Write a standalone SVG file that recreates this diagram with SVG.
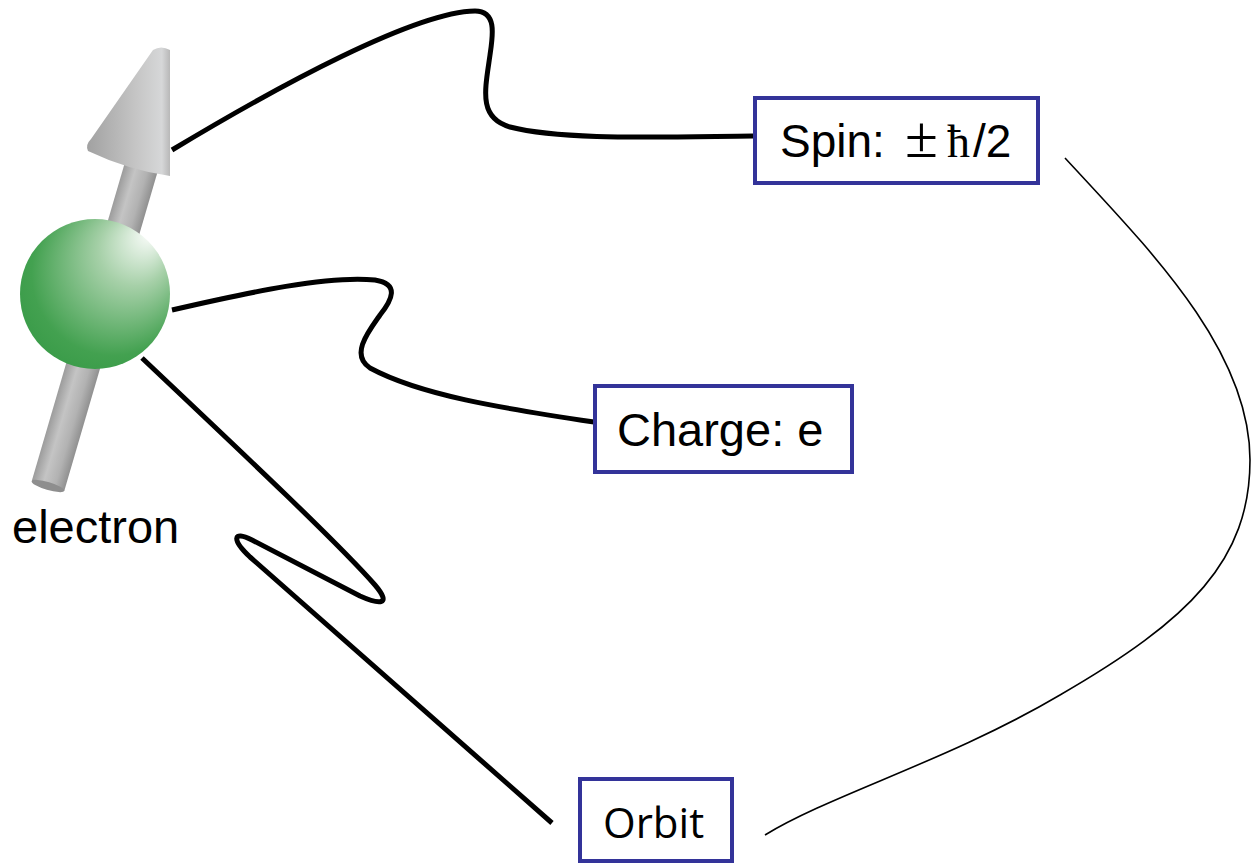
<svg xmlns="http://www.w3.org/2000/svg" width="1255" height="863" viewBox="0 0 1255 863">
  <style>
    .box { fill: #ffffff; stroke: #333399; stroke-width: 4; }
    .label { font-family: "Liberation Sans", Arial, sans-serif; font-size: 46px; fill: #000000; }
    .sym { font-family: "Liberation Serif", "Times New Roman", serif; }
    .orbit { font-family: "Open Sans", "Noto Sans", sans-serif; font-size: 42px; fill: #000000; }
    .wire { fill: none; stroke: #000000; stroke-width: 5; stroke-linejoin: round; }
    .thin { fill: none; stroke: #000000; stroke-width: 1.6; }
  </style>
  <defs>
    <linearGradient id="shaftGrad" x1="0" y1="0" x2="1" y2="0">
      <stop offset="0" stop-color="#9c9c9c"/>
      <stop offset="0.35" stop-color="#c4c4c4"/>
      <stop offset="0.7" stop-color="#b2b2b2"/>
      <stop offset="1" stop-color="#909090"/>
    </linearGradient>
    <linearGradient id="coneGrad" x1="88" y1="0" x2="170" y2="0" gradientUnits="userSpaceOnUse">
      <stop offset="0" stop-color="#a2a2a2"/>
      <stop offset="0.6" stop-color="#c6c6c6"/>
      <stop offset="0.9" stop-color="#d6d7d8"/>
      <stop offset="1" stop-color="#b8b8b8"/>
    </linearGradient>
    <radialGradient id="ballGrad" cx="0.5" cy="0.5" r="0.8" fx="0.88" fy="0.08">
      <stop offset="0" stop-color="#ffffff"/>
      <stop offset="0.3" stop-color="#a6d0a8"/>
      <stop offset="0.68" stop-color="#43a150"/>
      <stop offset="1" stop-color="#2a923c"/>
    </radialGradient>
  </defs>

  <!-- electron: spin arrow with a charged ball -->
  <g id="electron">
    <g transform="translate(48,486) rotate(16.3)">
      <rect x="-17" y="-335" width="34" height="335" fill="url(#shaftGrad)"/>
      <ellipse cx="0" cy="0" rx="17" ry="4" fill="#8e8e8e"/>
    </g>
    <path d="M153,50 Q161,45 170,50 L170,176 Q128,170 88,151 Q85,145 91,139 Z" fill="url(#coneGrad)"/>
    <circle cx="95" cy="294" r="75" fill="url(#ballGrad)"/>
    <text class="label" x="12" y="543" style="font-size:47px">electron</text>
  </g>

  <!-- connectors -->
  <g id="connectors">
    <path class="wire" d="M172,150 C280,85 415,12 475,11 C497,11 493,35 490,55 C485,90 478,118 510,127 C560,140 650,137 753,136"/>
    <path class="wire" d="M172,310 C250,292 330,275 375,280 C400,284 392,300 380,315 C368,332 350,355 370,368 C420,395 500,408 594,422"/>
    <path class="wire" d="M142,358 C250,460 340,545 375,585 C392,605 380,605 360,596 L252,540 C232,530 232,540 250,557 L552,823"/>
    <path class="thin" d="M1065,158 C1150,250 1250,350 1250,460 C1250,560 1190,620 1060,695 C950,760 830,795 765,835"/>
  </g>

  <g id="spin">
    <rect class="box" x="755" y="98" width="283" height="85"/>
    <text class="label" x="780" y="157">Spin: <tspan class="sym" x="905" style="font-size:60px">±</tspan><tspan class="sym" x="947">ħ</tspan><tspan x="973">/2</tspan></text>
  </g>

  <g id="charge">
    <rect class="box" x="595" y="386" width="257" height="86"/>
    <text class="label" x="617" y="446" style="font-size:47px">Charge: e</text>
  </g>

  <g id="orbit">
    <rect class="box" x="580" y="779" width="152" height="82"/>
    <text class="orbit" x="603" y="838">Orbit</text>
  </g>
</svg>
